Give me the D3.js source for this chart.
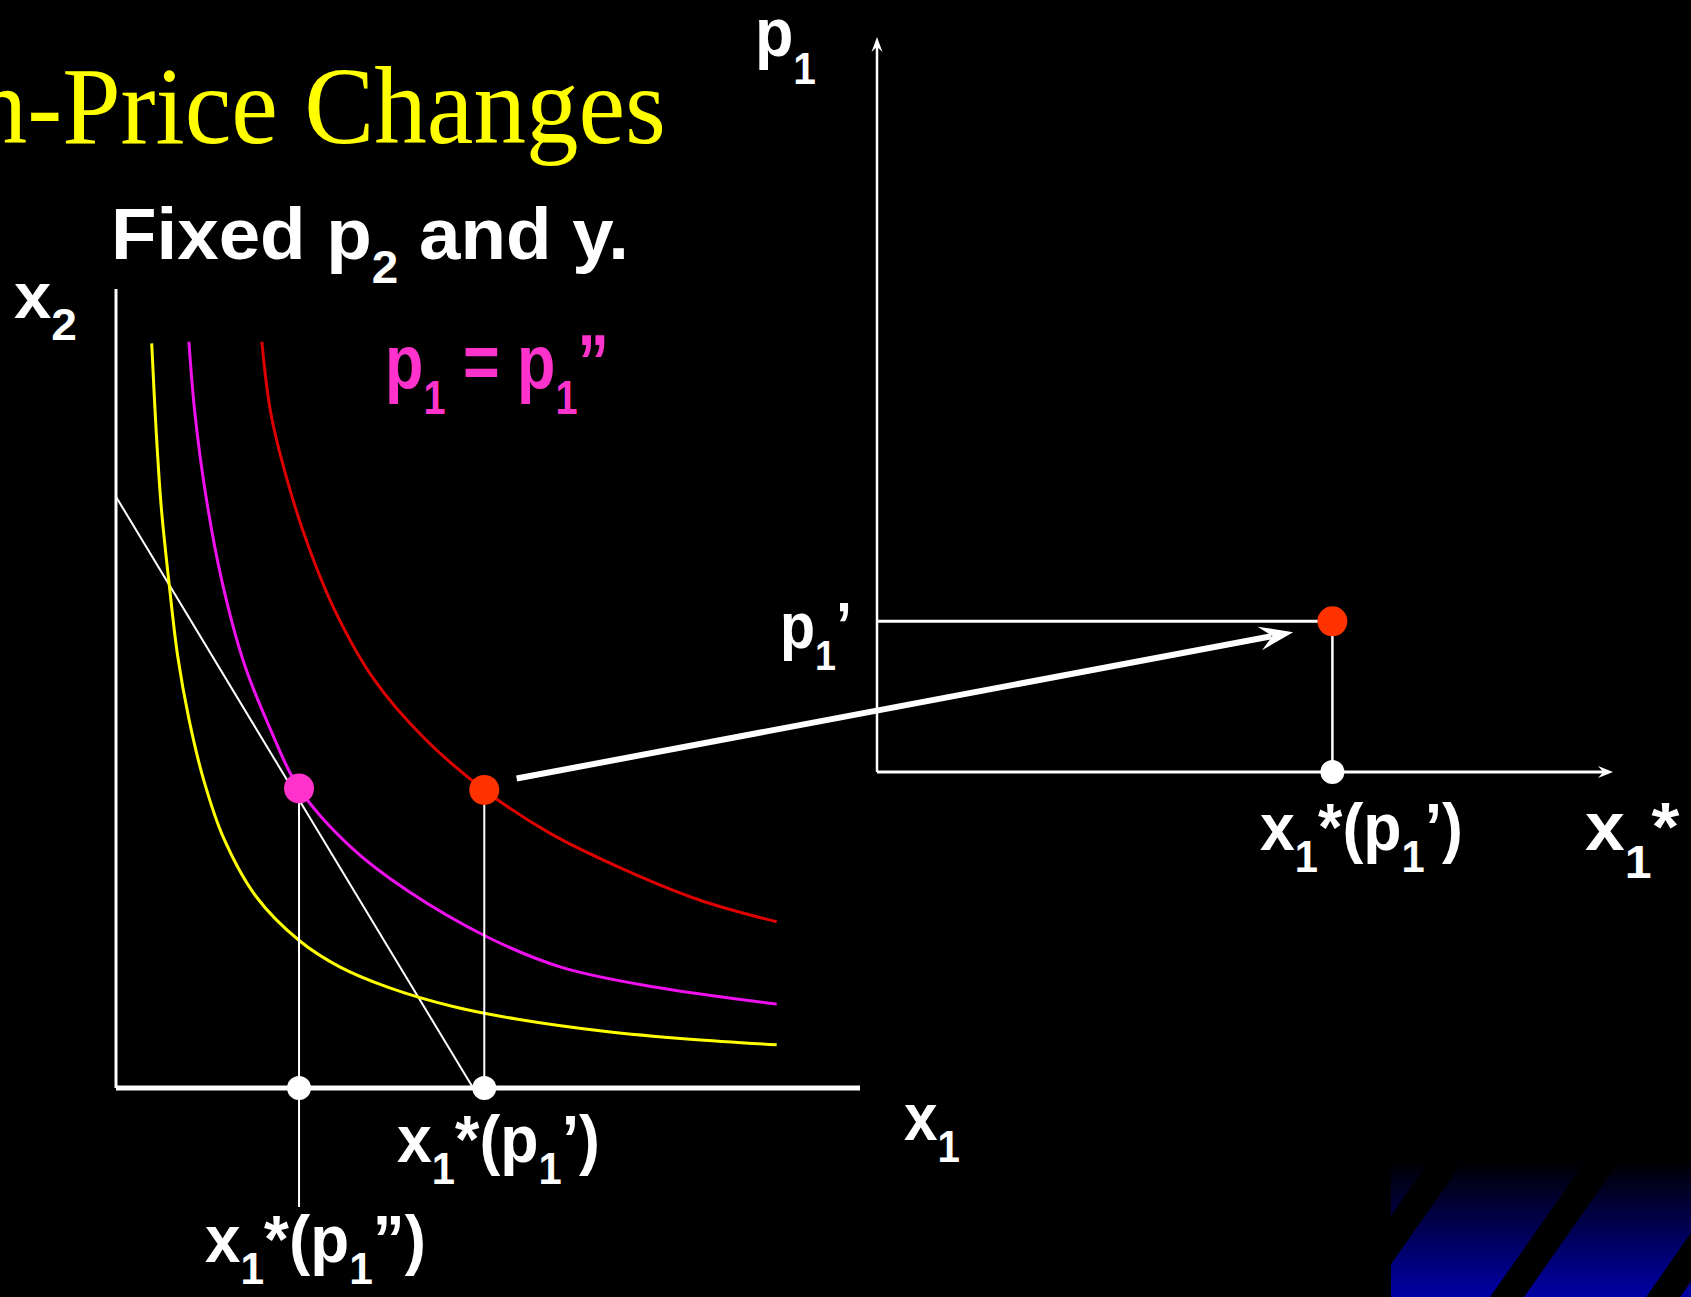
<!DOCTYPE html>
<html>
<head>
<meta charset="utf-8">
<script src="https://cdn.jsdelivr.net/npm/d3@7"></script>
<style>
  html, body { margin: 0; padding: 0; background: #000; overflow: hidden; }
  svg { display: block; }
</style>
</head>
<body>
<script>
// ---- data -------------------------------------------------------------
// Indifference curves in the (x1, x2) plane
const curveLow = [[0.48,9.32],[0.54,8.22],[0.61,7.25],[0.72,6.26],[0.83,5.40],[0.98,4.62],[1.18,3.85],[1.45,3.12],[1.88,2.40],[2.47,1.84],[3.00,1.52],[3.66,1.26],[4.53,1.02],[5.40,0.86],[6.56,0.71],[7.72,0.61],[8.88,0.54]];
const curveMid = [[0.98,9.34],[1.06,8.45],[1.21,7.40],[1.42,6.36],[1.72,5.32],[2.08,4.48],[2.46,3.75],[3.15,3.02],[3.90,2.48],[4.99,1.89],[5.99,1.51],[7.26,1.26],[8.88,1.05]];
const curveHigh = [[1.96,9.34],[2.08,8.45],[2.30,7.61],[2.59,6.77],[2.96,5.94],[3.47,5.11],[4.13,4.39],[4.95,3.73],[5.83,3.19],[6.84,2.73],[7.85,2.35],[8.88,2.08]];

// Budget line at p1 = p1'' (intercepts on the x2 and x1 axes)
const budgetLine = [[0, 7.40], [4.80, 0]];

// Chosen bundles
const optimumAtP1dd = [2.46, 3.75];   // p1 = p1''
const optimumAtP1d  = [4.95, 3.73];   // p1 = p1'
const x1Drop = -1.49;                 // how far the x1*(p1'') guide runs below the axis

// Demand panel: price p1' and demand x1*(p1')
const p1Prime = 2.05;
const demandPoint = [optimumAtP1d[0], p1Prime];

// Text
const titleText = "Own-Price Changes";
const subtitleParts = [["Fixed p"], ["2", "sub"], [" and y."]];
const x2AxisParts = [["x"], ["2", "sub"]];
const x1AxisParts = [["x"], ["1", "sub"]];
const p1AxisParts = [["p"], ["1", "sub"]];
const priceNoteParts = [["p"], ["1", "sub"], [" = p"], ["1", "sub"], ["\u201D"]];
const p1PrimeParts = [["p"], ["1", "sub"], ["\u2019"]];
const demandAtP1dParts = [["x"], ["1", "sub"], ["*(p"], ["1", "sub"], ["\u2019)"]];
const demandAtP1ddParts = [["x"], ["1", "sub"], ["*(p"], ["1", "sub"], ["\u201D)"]];
const x1StarAxisParts = [["x"], ["1", "sub"], ["*"]];

// ---- layout -----------------------------------------------------------
const W = 1691, H = 1297;
const FONT = "'Liberation Sans', Arial, Helvetica, sans-serif";
const SERIF = "'Liberation Serif', 'Times New Roman', Times, serif";

const svg = d3.select("body").append("svg")
  .attr("width", W).attr("height", H)
  .style("background", "#000");

// left panel scales
const x = d3.scaleLinear().domain([0, 10]).range([116, 860]);
const y = d3.scaleLinear().domain([0, 10]).range([1088, 289]);
// right (demand) panel scales
const xd = d3.scaleLinear().domain([0, 8]).range([877, 1613]);
const yd = d3.scaleLinear().domain([0, 10]).range([772, 37]);

// ---- decorative corner band --------------------------------------------
const defs = svg.append("defs");
const grad = defs.append("linearGradient").attr("id", "bandGrad")
  .attr("x1", 0).attr("y1", 0).attr("x2", 0).attr("y2", 1);
grad.append("stop").attr("offset", "0%").attr("stop-color", "#000000");
grad.append("stop").attr("offset", "100%").attr("stop-color", "#0000a4");
defs.append("clipPath").attr("id", "bandClip")
  .append("rect").attr("x", 1391).attr("y", 1160).attr("width", W - 1391).attr("height", H - 1160);

const band = svg.append("g").attr("clip-path", "url(#bandClip)");
band.append("rect").attr("x", 1391).attr("y", 1160).attr("width", W - 1391).attr("height", H - 1160)
  .attr("fill", "url(#bandGrad)");
const stripeStarts = [1274, 1430, 1586, 1742];
band.selectAll("path.stripe").data(stripeStarts).join("path")
  .attr("class", "stripe")
  .attr("fill", "#000")
  .attr("d", s => {
    const t = 1160, b = H, k = 0.7, w = 34;
    return `M${s},${t}L${s + w},${t}L${s + w - k * (b - t)},${b}L${s - k * (b - t)},${b}Z`;
  });

// ---- title ---------------------------------------------------------------
svg.append("text")
  .attr("transform", "translate(666,143) scale(0.955,1)")
  .attr("text-anchor", "end")
  .attr("font-family", SERIF)
  .attr("font-size", 110)
  .attr("fill", "#ffff00")
  .text(titleText);

// ---- helpers ------------------------------------------------------------
function richLabel(parts, o) {
  const t = svg.append("text")
    .attr("font-family", FONT)
    .attr("font-weight", "bold")
    .attr("font-size", o.size)
    .attr("fill", o.color || "#fff");
  let down = false;
  parts.forEach(p => {
    const ts = t.append("tspan").text(p[0]);
    if (p[1] === "sub") {
      ts.attr("font-size", o.sub).attr("dy", down ? 0 : o.shift);
      down = true;
    } else if (down) {
      ts.attr("dy", -o.shift);
      down = false;
    }
  });
  const bb = t.node().getBBox();
  const s = o.width ? o.width / bb.width : 1;
  t.attr("transform", `translate(${o.x - bb.x * s},${o.y}) scale(${s},1)`);
  return t;
}

function arrowHead(g, tip, from, L, h, notch, color) {
  const dx = tip[0] - from[0], dy = tip[1] - from[1];
  const len = Math.hypot(dx, dy);
  const ux = dx / len, uy = dy / len, nx = -uy, ny = ux;
  const bx = tip[0] - L * ux, by = tip[1] - L * uy;
  const mx = tip[0] - notch * L * ux, my = tip[1] - notch * L * uy;
  g.append("path")
    .attr("d", `M${tip[0]},${tip[1]}L${bx + h * nx},${by + h * ny}L${mx},${my}L${bx - h * nx},${by - h * ny}Z`)
    .attr("fill", color);
}

// ---- left panel: axes, budget line, indifference curves ----------------
const left = svg.append("g");
left.append("line")
  .attr("x1", x(0)).attr("y1", y(0)).attr("x2", x(0)).attr("y2", y(10))
  .attr("stroke", "#fff").attr("stroke-width", 3);
left.append("line")
  .attr("x1", x(0)).attr("y1", y(0)).attr("x2", x(10)).attr("y2", y(0))
  .attr("stroke", "#fff").attr("stroke-width", 5);

const line = d3.line().x(d => x(d[0])).y(d => y(d[1]));
const smooth = d3.line().x(d => x(d[0])).y(d => y(d[1])).curve(d3.curveCatmullRom.alpha(0.5));

left.append("path").datum(budgetLine).attr("d", line)
  .attr("fill", "none").attr("stroke", "#fff").attr("stroke-width", 2);

[[curveLow, "#ffff00"], [curveMid, "#ee11ee"], [curveHigh, "#dd0000"]].forEach(([data, c]) => {
  left.append("path").datum(data).attr("d", smooth)
    .attr("fill", "none").attr("stroke", c).attr("stroke-width", 3);
});

// guide lines down to the x1 axis
left.append("line")
  .attr("x1", x(optimumAtP1dd[0])).attr("y1", y(optimumAtP1dd[1]))
  .attr("x2", x(optimumAtP1dd[0])).attr("y2", y(x1Drop))
  .attr("stroke", "#fff").attr("stroke-width", 2);
left.append("line")
  .attr("x1", x(optimumAtP1d[0])).attr("y1", y(optimumAtP1d[1]))
  .attr("x2", x(optimumAtP1d[0])).attr("y2", y(0))
  .attr("stroke", "#fff").attr("stroke-width", 2);

// ---- right panel: demand diagram ---------------------------------------
const right = svg.append("g");
right.append("line")
  .attr("x1", xd(0)).attr("y1", yd(0)).attr("x2", xd(0)).attr("y2", yd(10) + 8)
  .attr("stroke", "#fff").attr("stroke-width", 2.5);
arrowHead(right, [xd(0), yd(10)], [xd(0), yd(0)], 15, 5.5, 0.65, "#fff");
right.append("line")
  .attr("x1", xd(0)).attr("y1", yd(0)).attr("x2", xd(8) - 8).attr("y2", yd(0))
  .attr("stroke", "#fff").attr("stroke-width", 3);
arrowHead(right, [xd(8), yd(0)], [xd(0), yd(0)], 15, 6, 0.65, "#fff");

right.append("line")
  .attr("x1", xd(0)).attr("y1", yd(demandPoint[1]))
  .attr("x2", xd(demandPoint[0])).attr("y2", yd(demandPoint[1]))
  .attr("stroke", "#fff").attr("stroke-width", 3);
right.append("line")
  .attr("x1", xd(demandPoint[0])).attr("y1", yd(demandPoint[1]))
  .attr("x2", xd(demandPoint[0])).attr("y2", yd(0))
  .attr("stroke", "#fff").attr("stroke-width", 2.5);

// ---- connecting arrow: chosen bundle -> demand point --------------------
{
  const a = [x(optimumAtP1d[0]), y(optimumAtP1d[1])];
  const b = [xd(demandPoint[0]), yd(demandPoint[1])];
  const len = Math.hypot(b[0] - a[0], b[1] - a[1]);
  const ux = (b[0] - a[0]) / len, uy = (b[1] - a[1]) / len;
  const start = [a[0] + 33 * ux, a[1] + 33 * uy - 5];
  const tip = [b[0] - 40 * ux, b[1] - 40 * uy + 3];
  const dx = tip[0] - start[0], dy = tip[1] - start[1], l2 = Math.hypot(dx, dy);
  svg.append("line")
    .attr("x1", start[0]).attr("y1", start[1])
    .attr("x2", tip[0] - 22 * dx / l2).attr("y2", tip[1] - 22 * dy / l2)
    .attr("stroke", "#fff").attr("stroke-width", 6);
  arrowHead(svg, tip, start, 34, 12, 0.62, "#fff");
}

// ---- points ------------------------------------------------------------
const dots = [
  { cx: x(optimumAtP1dd[0]), cy: y(0), r: 12, c: "#fff" },
  { cx: x(optimumAtP1d[0]), cy: y(0), r: 12, c: "#fff" },
  { cx: x(optimumAtP1dd[0]), cy: y(optimumAtP1dd[1]), r: 15, c: "#ff33cc" },
  { cx: x(optimumAtP1d[0]), cy: y(optimumAtP1d[1]), r: 15, c: "#ff3300" },
  { cx: xd(demandPoint[0]), cy: yd(0), r: 12, c: "#fff" },
  { cx: xd(demandPoint[0]), cy: yd(demandPoint[1]), r: 15, c: "#ff3300" }
];
svg.selectAll("circle.pt").data(dots).join("circle")
  .attr("class", "pt")
  .attr("cx", d => d.cx).attr("cy", d => d.cy)
  .attr("r", d => d.r)
  .attr("fill", d => d.c);

// ---- labels --------------------------------------------------------------
richLabel(subtitleParts,     { x: 111,  y: 259,  size: 72, sub: 46, shift: 24, width: 518 });
richLabel(x2AxisParts,       { x: 14,   y: 318,  size: 64, sub: 44, shift: 22, width: 63 });
richLabel(p1AxisParts,       { x: 755,  y: 56,   size: 68, sub: 44, shift: 28, width: 61 });
richLabel(priceNoteParts,    { x: 385,  y: 388,  size: 76, sub: 48, shift: 26, width: 224, color: "#ff33cc" });
richLabel(p1PrimeParts,      { x: 780,  y: 648,  size: 64, sub: 42, shift: 22, width: 72 });
richLabel(demandAtP1dParts,  { x: 1260, y: 850,  size: 66, sub: 44, shift: 22, width: 203 });
richLabel(x1StarAxisParts,   { x: 1585, y: 850,  size: 68, sub: 46, shift: 28, width: 95 });
richLabel(x1AxisParts,       { x: 904,  y: 1140, size: 66, sub: 44, shift: 22, width: 56 });
richLabel(demandAtP1dParts,  { x: 397,  y: 1162, size: 66, sub: 44, shift: 22, width: 203 });
richLabel(demandAtP1ddParts, { x: 205,  y: 1262, size: 66, sub: 44, shift: 22, width: 221 });
</script>
</body>
</html>
